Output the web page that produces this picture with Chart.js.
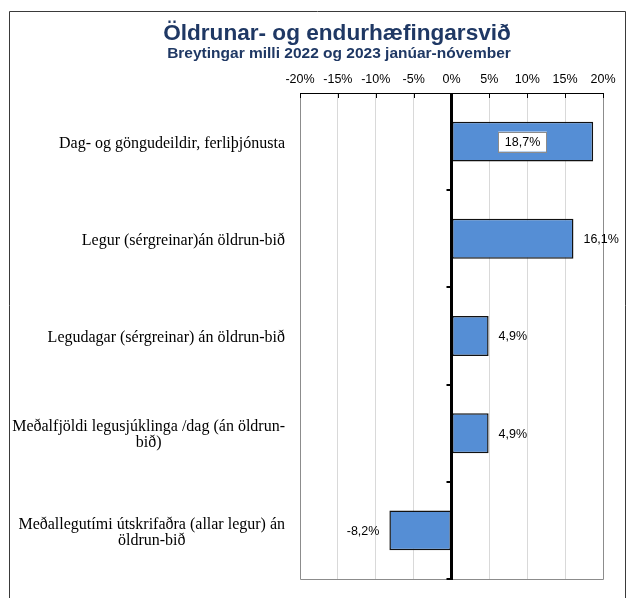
<!DOCTYPE html>
<html><head><meta charset="utf-8">
<script src="https://cdn.jsdelivr.net/npm/chart.js@4"></script>
<style>html,body{margin:0;padding:0;background:#fff}canvas{display:block}</style>
</head><body>
<canvas id="c" width="630" height="598"></canvas>
<script>
const chartTitle = "Öldrunar- og endurhæfingarsvið";
const chartSubtitle = "Breytingar milli 2022 og 2023 janúar-nóvember";
const categories = [
  ["Dag- og göngudeildir, ferliþjónusta"],
  ["Legur (sérgreinar)án öldrun-bið"],
  ["Legudagar (sérgreinar) án öldrun-bið"],
  ["Meðalfjöldi legusjúklinga /dag (án öldrun-", "bið)"],
  ["Meðallegutími útskrifaðra (allar legur) án", "öldrun-bið"]
];
const changes = [18.7, 16.1, 4.9, 4.9, -8.2];
const axisMin = -20, axisMax = 20, axisStep = 5;

const fmt = v => v.toFixed(1).replace('.', ',') + '%';

const deco = {
  id: 'deco',
  beforeDraw(chart) {
    const ctx = chart.ctx;
    ctx.save();
    ctx.fillStyle = '#fff';
    ctx.fillRect(0, 0, chart.width, chart.height);
    ctx.restore();
  },
  afterDatasetsDraw(chart) {
    const ctx = chart.ctx, a = chart.chartArea;
    const xs = chart.scales.x, ys = chart.scales.y;
    ctx.save();
    // plot border (left, right, bottom)
    ctx.strokeStyle = '#8c8c8c';
    ctx.lineWidth = 1;
    ctx.beginPath();
    ctx.moveTo(a.left + 0.5, a.top); ctx.lineTo(a.left + 0.5, a.bottom + 0.5);
    ctx.lineTo(a.right + 0.5, a.bottom + 0.5); ctx.lineTo(a.right + 0.5, a.top);
    ctx.stroke();
    // top axis line and inward ticks
    ctx.strokeStyle = '#000';
    ctx.beginPath();
    ctx.moveTo(a.left, a.top + 0.5); ctx.lineTo(a.right + 1, a.top + 0.5);
    for (let v = axisMin; v <= axisMax; v += axisStep) {
      const px = Math.round(xs.getPixelForValue(v)) + 0.5;
      ctx.moveTo(px, a.top); ctx.lineTo(px, a.top + 5);
    }
    ctx.stroke();
    // zero line
    const x0 = xs.getPixelForValue(0);
    ctx.lineWidth = 3;
    ctx.beginPath();
    ctx.moveTo(x0, a.top); ctx.lineTo(x0, a.bottom + 1);
    ctx.stroke();
    // category boundary stubs
    ctx.lineWidth = 2;
    ctx.beginPath();
    for (let i = 0; i < categories.length; i++) {
      const yb = (ys.getPixelForValue(i) + (i + 1 < categories.length ? ys.getPixelForValue(i + 1) : 2 * ys.getPixelForValue(i) - ys.getPixelForValue(i - 1))) / 2;
      ctx.moveTo(x0 - 5, Math.round(yb)); ctx.lineTo(x0, Math.round(yb));
    }
    ctx.stroke();
    // data labels
    const meta = chart.getDatasetMeta(0);
    ctx.font = '12.5px "Liberation Sans", Arial, sans-serif';
    ctx.textBaseline = 'middle';
    ctx.fillStyle = '#000';
    meta.data.forEach((bar, i) => {
      const v = changes[i];
      const t = fmt(v);
      if (i === 0) {
        const cx = (bar.x + bar.base) / 2;
        const w = ctx.measureText(t).width + 13;
        ctx.fillStyle = '#fff';
        ctx.fillRect(cx - w / 2, bar.y - 10, w, 20);
        ctx.strokeStyle = '#8c8c8c';
        ctx.lineWidth = 1;
        ctx.strokeRect(Math.round(cx - w / 2) + 0.5, Math.round(bar.y - 10) + 0.5, Math.round(w), 20);
        ctx.fillStyle = '#000';
        ctx.textAlign = 'center';
        ctx.fillText(t, cx, bar.y + 1);
      } else if (v >= 0) {
        ctx.textAlign = 'left';
        ctx.fillText(t, bar.x + 10, bar.y + 1);
      } else {
        ctx.textAlign = 'right';
        ctx.fillText(t, bar.x - 10, bar.y + 1);
      }
    });
    ctx.restore();
  },
  afterDraw(chart) {
    const ctx = chart.ctx, a = chart.chartArea, ys = chart.scales.y;
    ctx.save();
    // outer frame
    ctx.strokeStyle = '#3a3a3a';
    ctx.lineWidth = 1;
    ctx.beginPath();
    ctx.moveTo(9.5, chart.height + 2); ctx.lineTo(9.5, 11.5); ctx.lineTo(625.5, 11.5); ctx.lineTo(625.5, chart.height + 2);
    ctx.stroke();
    // titles
    ctx.fillStyle = '#1f3864';
    ctx.textAlign = 'center';
    ctx.textBaseline = 'alphabetic';
    ctx.font = 'bold 22.6px "Liberation Sans", Arial, sans-serif';
    ctx.fillText(chartTitle, 337, 40);
    ctx.font = 'bold 15.5px "Liberation Sans", Arial, sans-serif';
    ctx.fillText(chartSubtitle, 339, 58);
    // category labels
    ctx.fillStyle = '#000';
    ctx.font = '16px "Liberation Serif", "Times New Roman", serif';
    ctx.textBaseline = 'middle';
    const lh = 16;
    categories.forEach((lines, i) => {
      const y = ys.getPixelForValue(i);
      const maxW = Math.max(...lines.map(l => ctx.measureText(l).width));
      const cx = a.left - 15 - maxW / 2;
      lines.forEach((l, k) => {
        ctx.fillText(l, cx, y - (lines.length - 1) * lh / 2 + k * lh + 2);
      });
    });
    ctx.restore();
  }
};

new Chart(document.getElementById('c'), {
  type: 'bar',
  data: {
    labels: categories,
    datasets: [{
      data: changes,
      backgroundColor: '#558ed5',
      borderColor: '#111',
      borderWidth: 1.5,
      borderSkipped: false,
      categoryPercentage: 1,
      barPercentage: 0.41
    }]
  },
  options: {
    indexAxis: 'y',
    responsive: false,
    animation: false,
    events: [],
    layout: { padding: { left: 300, right: 27, top: 63, bottom: 19 } },
    plugins: { legend: { display: false }, title: { display: false }, tooltip: { enabled: false } },
    scales: {
      x: {
        position: 'top',
        min: axisMin, max: axisMax,
        afterFit(s) { s.height = 30; },
        ticks: {
          stepSize: axisStep,
          padding: 6,
          color: '#000',
          font: { family: '"Liberation Sans", Arial, sans-serif', size: 12.5 },
          callback: v => v + '%'
        },
        grid: { color: '#d9d9d9', drawTicks: false },
        border: { display: false }
      },
      y: { display: false }
    }
  },
  plugins: [deco]
});
</script>
</body></html>
